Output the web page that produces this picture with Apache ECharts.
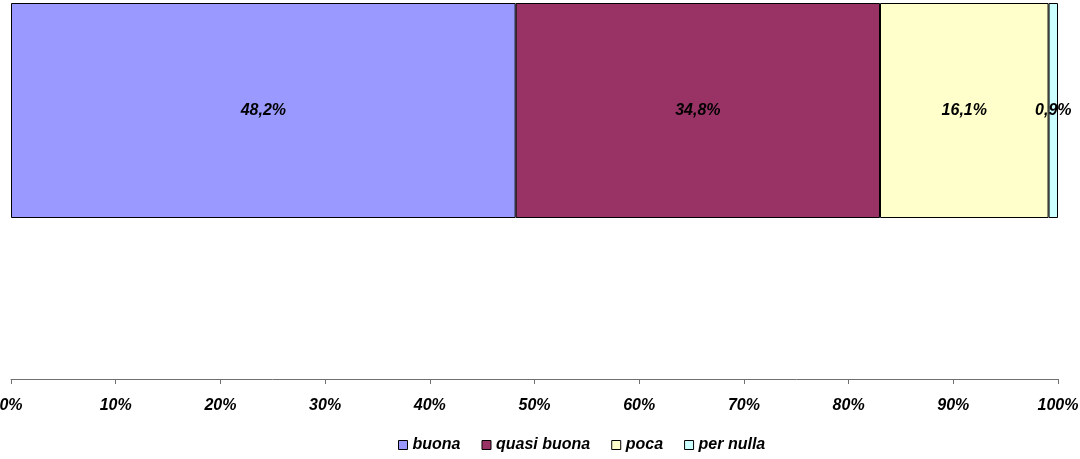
<!DOCTYPE html>
<html><head><meta charset="utf-8">
<script src="https://cdn.jsdelivr.net/npm/echarts@6/dist/echarts.min.js"></script>
<style>html,body{margin:0;padding:0;background:#fff}#c{width:1080px;height:459px}</style>
</head><body><div id="c"></div>
<script>
var categories = ['Risposta'];
var seriesNames = ['buona', 'quasi buona', 'poca', 'per nulla'];
var buona = [48.2];
var quasiBuona = [34.8];
var poca = [16.1];
var perNulla = [0.9];
var tickLabels = ['0%','10%','20%','30%','40%','50%','60%','70%','80%','90%','100%'];
var colors = ['#9999FF', '#993366', '#FFFFCC', '#CCFFFF'];
var values = [buona, quasiBuona, poca, perNulla];

var FF = 'Liberation Sans, Arial, sans-serif';
var chart = echarts.init(document.getElementById('c'), null, {renderer: 'canvas'});
var series = seriesNames.map(function (n, i) {
  return {
    name: n, type: 'bar', stack: 'all', xAxisIndex: 0, yAxisIndex: 0,
    barWidth: '100%',
    itemStyle: {color: colors[i], borderColor: '#000', borderWidth: 1},
    label: {show: true, position: 'inside', fontSize: 16, fontFamily: FF, fontWeight: 'bold', fontStyle: 'italic', color: '#000',
      formatter: function (p) { return p.value.toFixed(1).replace('.', ',') + '%'; }},
    data: values[i]
  };
});
series.push({type: 'bar', xAxisIndex: 1, yAxisIndex: 1, data: [], silent: true});
chart.setOption({
  animation: false,
  grid: [
    {left: 11, right: 22, top: 3, height: 215, outerBoundsMode: 'none', containLabel: false},
    {left: 11, right: 22, top: 3, bottom: 80, outerBoundsMode: 'none', containLabel: false}
  ],
  legend: {
    data: seriesNames, left: 393, top: 432, itemWidth: 9, itemHeight: 9, itemGap: 21,
    icon: 'rect',
    itemStyle: {borderColor: '#000', borderWidth: 1},
    textStyle: {fontSize: 16, fontFamily: FF, fontWeight: 'bold', fontStyle: 'italic', color: '#000'}
  },
  xAxis: [
    {type: 'value', gridIndex: 0, min: 0, max: 100, show: false},
    {type: 'value', gridIndex: 1, min: 0, max: 100, interval: 10,
      axisLine: {show: true, lineStyle: {color: '#707070', width: 1}},
      axisTick: {show: true, length: 5, inside: false, lineStyle: {color: '#707070'}},
      splitLine: {show: false},
      axisLabel: {margin: 19, fontSize: 16, fontFamily: FF, fontWeight: 'bold', fontStyle: 'italic', color: '#000',
        formatter: function (v) { return tickLabels[Math.round(v / 10)]; }}}
  ],
  yAxis: [
    {type: 'category', gridIndex: 0, data: categories, show: false},
    {type: 'category', gridIndex: 1, data: categories, show: false}
  ],
  series: series
});
</script></body></html>
